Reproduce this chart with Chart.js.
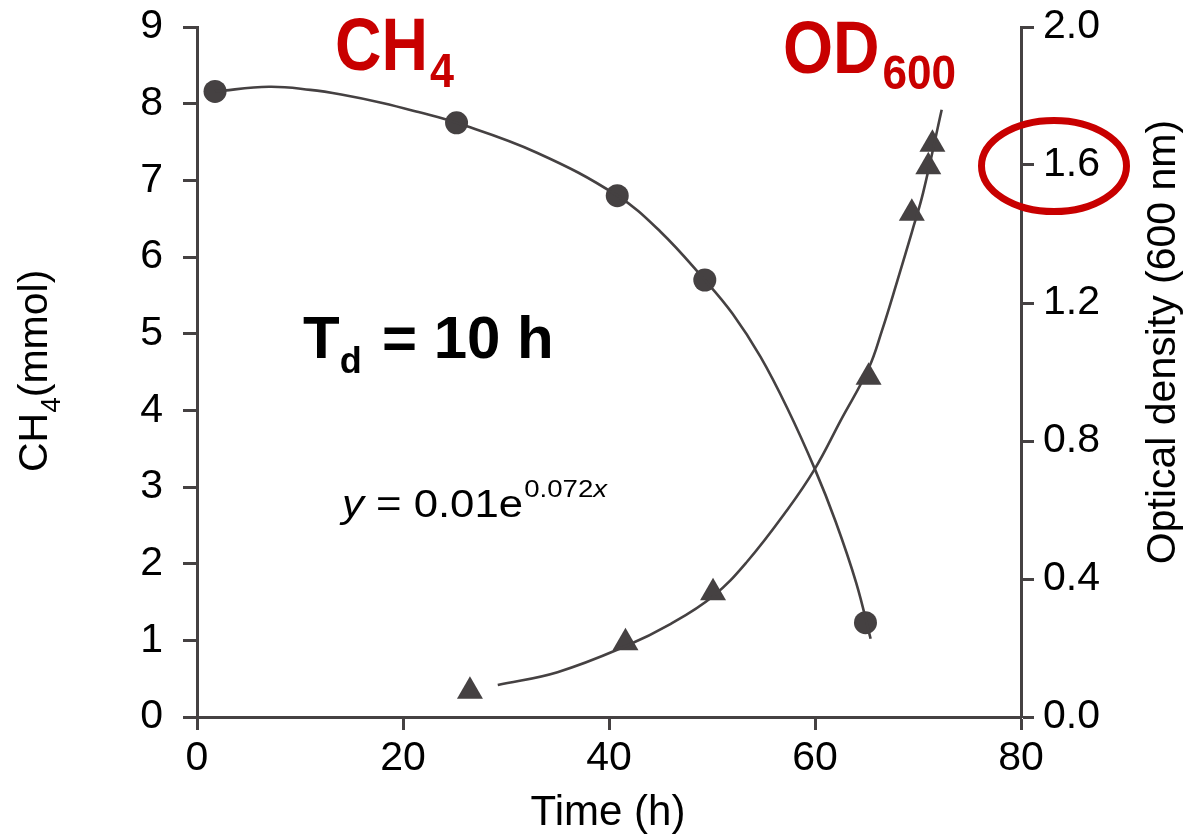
<!DOCTYPE html>
<html>
<head>
<meta charset="utf-8">
<script src="https://cdn.jsdelivr.net/npm/chart.js@4/dist/chart.umd.min.js"></script>
<style>
  html, body { margin: 0; padding: 0; background: #ffffff; }
  #wrap { width: 1184px; height: 837px; }
</style>
</head>
<body>
<div id="wrap"><canvas id="c" width="1184" height="837"></canvas></div>
<script>
// ---- Data ----
// Measured CH4 points (circles), left axis, mmol
const ch4TimeH = [1.75, 25.2, 40.8, 49.3, 64.9];
const ch4Mmol  = [8.16, 7.75, 6.80, 5.70, 1.23];

// Measured OD600 points (triangles), right axis
const odTimeH = [26.5, 41.6, 50.1, 65.2, 69.4, 71.0, 71.4];
const odValue = [0.075, 0.215, 0.36, 0.985, 1.46, 1.595, 1.66];

// Fitted CH4 curve
const ch4FitTimeH = [1.75, 7, 11, 14, 18, 21.5, 25.2, 33, 40.8, 45, 49.3, 52, 54.7, 57.3, 60, 62, 64, 65.4];
const ch4FitMmol  = [8.16, 8.22, 8.18, 8.12, 8.01, 7.89, 7.75, 7.36, 6.80, 6.33, 5.70, 5.26, 4.70, 4.03, 3.23, 2.55, 1.75, 1.02];

// Fitted OD curve (y = 0.01e^0.072x)
const odFitTimeH = [29.2, 35, 41.6, 46, 50.1, 53.4, 57.3, 60, 62.5, 65.2, 66.5, 68, 69.4, 70.5, 72.3];
const odFitValue = [0.093, 0.13, 0.205, 0.27, 0.35, 0.45, 0.60, 0.72, 0.86, 1.01, 1.12, 1.265, 1.405, 1.52, 1.76];

// Tick labels
const xTicks = [0, 20, 40, 60, 80];
const leftTicks = [0, 1, 2, 3, 4, 5, 6, 7, 8, 9];
const rightTicks = ["0.0", "0.4", "0.8", "1.2", "1.6", "2.0"];

// Text
const xTitle = "Time (h)";
const rightTitle = "Optical density (600 nm)";

// ---- Build ----
const zip = (xs, ys) => xs.map((x, i) => ({ x: x, y: ys[i] }));
const INK = '#454142';
const RED = '#c80000';
const FONT = '"Liberation Sans", Arial, Helvetica, sans-serif';

function txt(ctx, s, x, y, size, opts) {
  opts = opts || {};
  ctx.save();
  ctx.translate(x, y);
  if (opts.rot) ctx.rotate(opts.rot);
  ctx.scale(opts.sx || 1, 1);
  ctx.font = (opts.style || '') + ' ' + (opts.weight || 'normal') + ' ' + size + 'px ' + FONT;
  ctx.fillStyle = opts.color || '#000';
  ctx.textAlign = opts.align || 'left';
  ctx.textBaseline = 'alphabetic';
  ctx.fillText(s, 0, 0);
  const w = ctx.measureText(s).width * (opts.sx || 1);
  ctx.restore();
  return w;
}

const annot = {
  id: 'annot',
  afterDraw(chart) {
    const ctx = chart.ctx;
    // CH4 label (red, bold)
    let w = txt(ctx, 'CH', 335, 70, 74, { weight: 'bold', color: RED, sx: 0.87 });
    txt(ctx, '4', 335 + w + 2, 87, 49, { weight: 'bold', color: RED, sx: 0.88 });
    // OD600 label
    w = txt(ctx, 'OD', 783, 73, 74, { weight: 'bold', color: RED, sx: 0.87 });
    txt(ctx, '600', 783 + w + 3, 89, 49, { weight: 'bold', color: RED, sx: 0.9 });
    // Td = 10 h
    w = txt(ctx, 'T', 303, 358, 60, { weight: 'bold' });
    txt(ctx, 'd', 303 + w, 373, 36, { weight: 'bold' });
    txt(ctx, '= 10 h', 382, 358, 60, { weight: 'bold' });
    // Equation
    ctx.save();
    ctx.translate(342, 517);
    ctx.scale(1.15, 1);
    let xx = 0;
    xx += txt(ctx, 'y', xx, 0, 38, { style: 'italic' });
    xx += txt(ctx, ' = 0.01e', xx, 0, 38, {});
    const w2 = txt(ctx, '0.072', xx + 1, -20, 24, {});
    txt(ctx, 'x', xx + 1 + w2, -20, 24, { style: 'italic' });
    ctx.restore();
    // left axis title: CH4(mmol), rotated
    ctx.save();
    ctx.translate(47, 472);
    ctx.rotate(-Math.PI / 2);
    let lx = 0;
    lx += txt(ctx, 'CH', lx, 0, 41, {});
    lx += txt(ctx, '4', lx, 13, 28, {});
    txt(ctx, '(mmol)', lx, 0, 41, {});
    ctx.restore();
    // right title
    txt(ctx, rightTitle, 1175, 342, 41, { rot: -Math.PI / 2, align: 'center' });
    // bottom title
    txt(ctx, xTitle, 608, 825, 42, { align: 'center' });
    // red ellipse around 1.6
    ctx.save();
    ctx.beginPath();
    ctx.ellipse(1054, 166, 72.5, 45.5, 0, 0, Math.PI * 2);
    ctx.lineWidth = 7;
    ctx.strokeStyle = RED;
    ctx.stroke();
    ctx.restore();
  }
};

const axisCommon = (tickLength, padding) => ({
  grid: { display: true, drawOnChartArea: false, drawTicks: true, tickLength: tickLength, tickWidth: 3, tickColor: INK, color: INK },
  border: { display: true, color: INK, width: 3 },
  ticks: { color: '#000', font: { family: FONT, size: 41 }, padding: padding }
});

const zeroPad = s => { s.paddingTop = 0; s.paddingBottom = 0; s.paddingLeft = 0; s.paddingRight = 0; };

const xAxis = axisCommon(13, 4);
Object.assign(xAxis, { type: 'linear', position: 'bottom', min: 0, max: 80 });
xAxis.ticks.maxRotation = 0;
xAxis.afterBuildTicks = s => { s.ticks = xTicks.map(v => ({ value: v })); };
xAxis.afterFit = s => { s.height = 120; zeroPad(s); };

const yAxis = axisCommon(14, 20);
Object.assign(yAxis, { type: 'linear', position: 'left', min: 0, max: 9 });
yAxis.afterBuildTicks = s => { s.ticks = leftTicks.map(v => ({ value: v })); };
yAxis.ticks.callback = v => String(v);
yAxis.afterFit = s => { s.width = 197; zeroPad(s); };

const y1Axis = axisCommon(13, 9);
Object.assign(y1Axis, { type: 'linear', position: 'right', min: 0, max: 2 });
y1Axis.afterBuildTicks = s => { s.ticks = rightTicks.map(v => ({ value: parseFloat(v) })); };
y1Axis.ticks.callback = (v) => { const i = rightTicks.findIndex(t => Math.abs(parseFloat(t) - v) < 1e-9); return i >= 0 ? rightTicks[i] : ''; };
y1Axis.afterFit = s => { s.width = 163; zeroPad(s); };

new Chart(document.getElementById('c'), {
  type: 'line',
  data: {
    datasets: [
      { label: 'CH4 fit', data: zip(ch4FitTimeH, ch4FitMmol), yAxisID: 'y', borderColor: INK, borderWidth: 2.6, pointRadius: 0, tension: 0.4, fill: false },
      { label: 'OD fit', data: zip(odFitTimeH, odFitValue), yAxisID: 'y1', borderColor: INK, borderWidth: 2.6, pointRadius: 0, tension: 0.4, fill: false },
      { label: 'CH4', data: zip(ch4TimeH, ch4Mmol), yAxisID: 'y', showLine: false, pointStyle: 'circle', pointRadius: 11.5, pointBackgroundColor: INK, pointBorderColor: INK, pointBorderWidth: 0 },
      { label: 'OD600', data: zip(odTimeH, odValue), yAxisID: 'y1', showLine: false, pointStyle: 'triangle', pointRadius: 15, pointBackgroundColor: INK, pointBorderColor: INK, pointBorderWidth: 0 }
    ]
  },
  options: {
    responsive: false,
    animation: false,
    devicePixelRatio: 1,
    layout: { padding: { top: 27, left: 0, right: 0, bottom: 0 }, autoPadding: false },
    plugins: { legend: { display: false }, tooltip: { enabled: false } },
    scales: { x: xAxis, y: yAxis, y1: y1Axis }
  },
  plugins: [annot]
});
</script>
</body>
</html>
